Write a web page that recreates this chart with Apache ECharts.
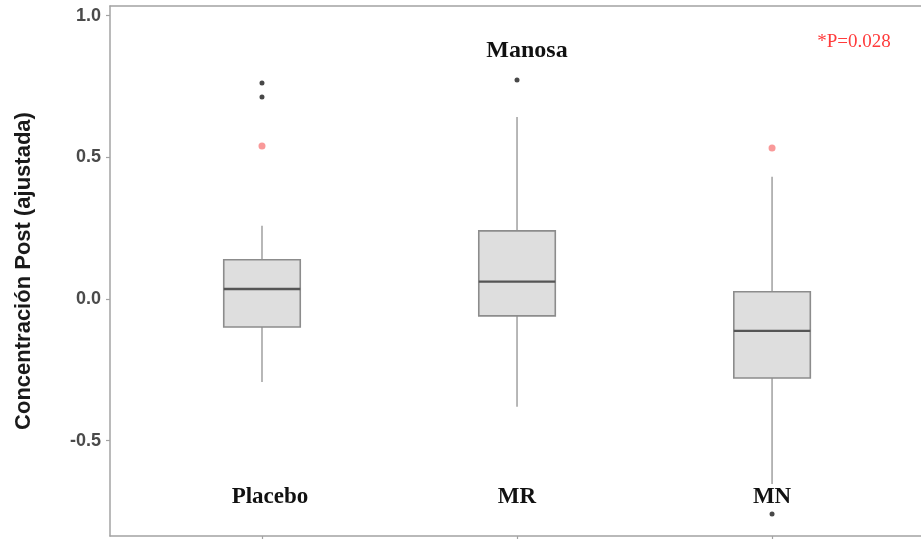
<!DOCTYPE html>
<html>
<head>
<meta charset="utf-8">
<script src="https://cdn.jsdelivr.net/npm/echarts@6/dist/echarts.min.js"></script>
<style>
  html, body { margin: 0; padding: 0; background: #fff; }
  #chart { width: 921px; height: 539px; }
</style>
</head>
<body>
<div id="chart"></div>
<script>
// Groups and their box-plot statistics (adjusted post concentration)
const categories = ['Placebo', 'MR', 'MN'];
const whiskerLow = [-0.293, -0.381, -0.653];
const q1 = [-0.099, -0.060, -0.279];
const median = [0.035, 0.061, -0.113];
const q3 = [0.138, 0.240, 0.025];
const whiskerHigh = [0.258, 0.642, 0.431];

// Outlying observations: [group index, value]
const outliers = [[0, 0.762], [0, 0.713], [1, 0.773], [2, -0.759]];
// Highlighted observations (red)
const flagged = [[0, 0.540], [2, 0.533]];

const yTicks = [-0.5, 0, 0.5, 1.0];
const titleText = 'Manosa';
const pText = '*P=0.028';

const boxRows = categories.map((c, i) => [i, whiskerLow[i], q1[i], median[i], q3[i], whiskerHigh[i]]);

const frameColor = '#a3a3a3';
const xRange = { min: -0.596, max: 2.584 };

const chart = echarts.init(document.getElementById('chart'));

function renderBox(params, api) {
  const i = api.value(0);
  const half = api.size([0.3, 0])[0] / 2;
  const pLow = api.coord([i, api.value(1)]);
  const pQ1 = api.coord([i, api.value(2)]);
  const pMed = api.coord([i, api.value(3)]);
  const pQ3 = api.coord([i, api.value(4)]);
  const pHigh = api.coord([i, api.value(5)]);
  const x = pQ1[0];
  const wStyle = { stroke: '#a6a6a6', lineWidth: 1.6 };
  return {
    type: 'group',
    children: [
      { type: 'line', shape: { x1: x, y1: pHigh[1], x2: x, y2: pQ3[1] }, style: wStyle },
      { type: 'line', shape: { x1: x, y1: pQ1[1], x2: x, y2: pLow[1] }, style: wStyle },
      { type: 'rect', shape: { x: x - half, y: pQ3[1], width: half * 2, height: pQ1[1] - pQ3[1] },
        style: { fill: '#dedede', stroke: '#8c8c8c', lineWidth: 1.6 } },
      { type: 'line', shape: { x1: x - half, y1: pMed[1], x2: x + half, y2: pMed[1] },
        style: { stroke: '#555555', lineWidth: 2.4 } }
    ]
  };
}

chart.setOption({
  animation: false,
  backgroundColor: '#ffffff',
  grid: { left: 110, right: 0, top: 6, bottom: 3, show: false },
  xAxis: [
    {
      type: 'value',
      min: xRange.min,
      max: xRange.max,
      position: 'bottom',
      splitLine: { show: false },
      axisLine: { show: true, onZero: false, lineStyle: { color: frameColor, width: 1.5 } },
      axisTick: { show: true, customValues: [0, 1, 2], length: 4, lineStyle: { color: frameColor, width: 1.2 } },
      axisLabel: {
        show: true,
        inside: true,
        margin: 27,
        customValues: [0, 1, 2],
        formatter: v => {
          const name = categories[Math.round(v)];
          return Math.round(v) === 0 ? '{shift|' + name + '}' : name;
        },
        rich: {
          shift: { padding: [0, 0, 0, 16], fontFamily: 'Liberation Serif', fontWeight: 'bold', fontSize: 23, color: '#111' }
        },
        fontFamily: 'Liberation Serif',
        fontWeight: 'bold',
        fontSize: 23,
        color: '#111'
      }
    },
    {
      type: 'value',
      min: xRange.min,
      max: xRange.max,
      position: 'top',
      splitLine: { show: false },
      axisLine: { show: true, onZero: false, lineStyle: { color: frameColor, width: 1.5 } },
      axisTick: { show: false },
      axisLabel: { show: false }
    }
  ],
  yAxis: {
    type: 'value',
    min: -0.837,
    max: 1.034,
    name: 'Concentración Post (ajustada)',
    nameLocation: 'middle',
    nameGap: 75,
    nameTextStyle: { fontFamily: 'Liberation Sans', fontWeight: 'bold', fontSize: 22, color: '#1a1a1a' },
    splitLine: { show: false },
    axisLine: { show: true, onZero: false, lineStyle: { color: frameColor, width: 1.5 } },
    axisTick: { show: true, customValues: yTicks, length: 4, lineStyle: { color: frameColor, width: 1.2 } },
    axisLabel: {
      customValues: yTicks,
      formatter: v => v.toFixed(1),
      margin: 9,
      fontFamily: 'Liberation Sans',
      fontWeight: 'bold',
      fontSize: 18,
      color: '#4a4a4a'
    }
  },
  series: [
    {
      type: 'custom',
      data: boxRows,
      encode: { x: 0, y: [1, 2, 3, 4, 5] },
      renderItem: renderBox,
      z: 2
    },
    {
      type: 'scatter',
      data: outliers,
      symbol: 'circle',
      symbolSize: 5,
      itemStyle: { color: '#1a1a1a' },
      z: 3
    },
    {
      type: 'scatter',
      data: flagged,
      symbol: 'circle',
      symbolSize: 7,
      itemStyle: { color: '#f87f7f' },
      z: 3
    }
  ],
  graphic: [
    {
      type: 'text',
      x: 527, y: 51,
      style: {
        text: titleText,
        fontFamily: 'Liberation Serif', fontWeight: 'bold', fontSize: 24,
        fill: '#111', textAlign: 'center', textVerticalAlign: 'middle'
      }
    },
    {
      type: 'text',
      x: 854, y: 42,
      style: {
        text: pText,
        fontFamily: 'Liberation Serif', fontSize: 19,
        fill: '#ff3b3b', textAlign: 'center', textVerticalAlign: 'middle'
      }
    }
  ]
});
</script>
</body>
</html>
